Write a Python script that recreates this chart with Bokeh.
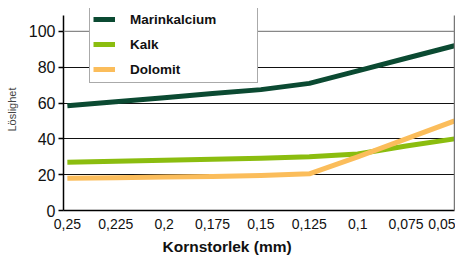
from bokeh.plotting import figure
from bokeh.embed import file_html
from bokeh.resources import INLINE
from bokeh.models import (Range1d, FixedTicker, CustomJSTickFormatter, Span, Legend,
                          LegendItem, Title, LinearAxis)

# ---- data ----
grain_size = [0.25, 0.225, 0.2, 0.175, 0.15, 0.125, 0.1, 0.075, 0.05]
marinkalcium = [58.5, 60.7, 63, 65.3, 67.5, 71, 78, 85, 92]
kalk = [27, 27.5, 28, 28.6, 29.2, 30, 31.5, 36, 40]
dolomit = [18, 18.3, 18.7, 19, 19.5, 20.5, 30, 40, 50]
y_ticks = [0, 20, 40, 60, 80, 100]
series_names = ["Marinkalcium", "Kalk", "Dolomit"]
series_colors = ["#0b4a32", "#8bbd0f", "#fbbd5b"]
y_axis_top = 109

p = figure(width=455, height=260, output_backend="svg", toolbar_location=None,
           x_range=Range1d(0.252, 0.05), y_range=Range1d(0, 112.8),
           min_border_left=63, min_border_right=1, min_border_top=8, min_border_bottom=50)
p.outline_line_color = None
p.background_fill_color = "white"
p.border_fill_color = "white"

# axes
p.xaxis.ticker = FixedTicker(ticks=grain_size)
p.xaxis.formatter = CustomJSTickFormatter(code="return tick.toString().replace('.', ',')")
p.xaxis.major_tick_out = 0
p.xaxis.major_tick_in = 0
p.xaxis.minor_tick_out = 0
p.xaxis.minor_tick_in = 0
p.xaxis.axis_line_color = "black"
p.xaxis.axis_line_width = 1.5
p.xaxis.major_label_text_font = "Liberation Sans"
p.xaxis.major_label_text_font_size = "14px"
p.xaxis.major_label_text_color = "#111111"
p.xaxis.major_label_standoff = 8

p.yaxis.ticker = FixedTicker(ticks=y_ticks)
p.yaxis.bounds = (0, y_axis_top)
p.yaxis.major_tick_out = 5
p.yaxis.major_tick_in = 0
p.yaxis.minor_tick_out = 0
p.yaxis.minor_tick_in = 0
p.yaxis.axis_line_color = "black"
p.yaxis.axis_line_width = 1.5
p.yaxis.major_tick_line_width = 1.5
p.yaxis.major_label_text_font = "Liberation Sans"
p.yaxis.major_label_text_font_size = "16px"
p.yaxis.major_label_text_color = "#111111"
p.yaxis.major_label_standoff = 3
p.yaxis.axis_label = "Löslighet"
p.yaxis.axis_label_text_font = "Liberation Sans"
p.yaxis.axis_label_text_font_style = "normal"
p.yaxis.axis_label_text_font_size = "11px"
p.yaxis.axis_label_text_color = "#444444"
p.yaxis.axis_label_standoff = 8

# right frame border (an axis without ticks or labels)
right = LinearAxis(bounds=(0, y_axis_top), ticker=FixedTicker(ticks=[]),
                   major_tick_out=0, major_tick_in=0, minor_tick_out=0, minor_tick_in=0,
                   major_label_standoff=0, axis_line_color="#777777", axis_line_width=1.5)
p.add_layout(right, "right")

p.xgrid.grid_line_color = None
p.ygrid.grid_line_color = "#111111"
p.ygrid.grid_line_width = 1

p.add_layout(Span(location=100, dimension="width", line_color="#888888", line_width=1.2))

renderers = []
for ys, c in zip([marinkalcium, kalk, dolomit], series_colors):
    r = p.line(grain_size, ys, line_color=c, line_width=5, line_join="round")
    renderers.append(r)

legend = Legend(items=[LegendItem(label=n, renderers=[r]) for n, r in zip(series_names, renderers)],
                location=(26, 127), padding=3, spacing=5, label_height=20, glyph_height=20,
                glyph_width=22, label_standoff=15, label_width=124,
                label_text_font="Liberation Sans", label_text_font_style="bold",
                label_text_font_size="13.5px", label_text_color="#111111",
                border_line_color="#555555", border_line_width=1,
                background_fill_color="white", background_fill_alpha=1, margin=0)
p.add_layout(legend)

p.add_layout(Title(text="Kornstorlek (mm)", align="left", offset=99, vertical_align="bottom",
                   text_font="Liberation Sans", text_font_style="bold",
                   text_font_size="15.5px", text_color="#111111", standoff=9,
                   text_line_height=1.9), "below")

open("out.html", "w").write(file_html(p, INLINE))
